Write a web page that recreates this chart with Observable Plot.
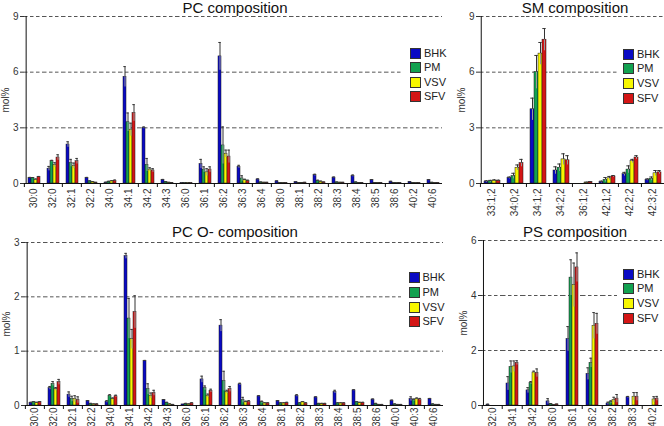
<!DOCTYPE html>
<html><head><meta charset="utf-8">
<script src="https://cdn.jsdelivr.net/npm/d3@7"></script>
<script src="https://cdn.jsdelivr.net/npm/@observablehq/plot@0.6"></script>
<style>
body{margin:0;background:#fff;font-family:"Liberation Sans",Arial,sans-serif;}
#root{position:relative;width:664px;height:426px;overflow:hidden;background:#fff}
.panel{position:absolute}
.panel svg{overflow:visible;display:block}
.title{position:absolute;font-size:15px;line-height:15px;color:#111;white-space:nowrap;transform:translateX(-50%)}
.lbox{position:absolute;background:#fff;z-index:5}
.sw{position:absolute;width:9px;height:9px;border:0.5px solid #333;z-index:6}
.lt{position:absolute;font-size:11px;line-height:11px;color:#222;z-index:6;white-space:nowrap}
</style></head>
<body><div id="root"></div>
<script>
const series = ["BHK","PM","VSV","SFV"];
const colors = ["#0a0ac4","#12a150","#f7f700","#d41616"];

// PC composition
const pcCats = ["30:0","32:0","32:1","32:2","34:0","34:1","34:2","34:3","36:0","36:1","36:2","36:3","36:4","38:0","38:1","38:2","38:3","38:4","38:5","38:6","40:2","40:6"];
const pcBHK = [0.3,0.8,2.1,0.3,0.05,5.75,3.0,0.2,0.02,1.05,6.85,0.9,0.22,0.12,0.08,0.45,0.32,0.41,0.18,0.1,0.09,0.18];
const pcPM  = [0.3,1.2,1.1,0.12,0.1,3.3,1.0,0.08,0.02,0.75,2.05,0.27,0.06,0.03,0.04,0.14,0.06,0.06,0.04,0.03,0.03,0.05];
const pcVSV = [0.2,1.0,0.95,0.08,0.12,2.9,0.75,0.05,0.02,0.6,1.6,0.18,0.05,0.02,0.04,0.1,0.05,0.04,0.03,0.02,0.02,0.03];
const pcSFV = [0.35,1.4,1.2,0.05,0.15,3.8,0.7,0.04,0.02,0.75,1.45,0.14,0.05,0.02,0.05,0.06,0.05,0.04,0.03,0.02,0.02,0.03];
const pcErrBHK = [0.03,0.12,0.15,0.03,0.02,0.55,0.05,0.02,0,0.25,0.75,0.08,0.03,0.02,0.01,0.05,0.03,0.05,0.03,0.02,0.01,0.03];
const pcErrPM  = [0.02,0.05,0.2,0.02,0.02,0.5,0.35,0.02,0,0.15,1.0,0.15,0.02,0.01,0.01,0.04,0.02,0.02,0.01,0.01,0.01,0.01];
const pcErrVSV = [0.05,0.12,0.15,0.02,0.03,0.35,0.1,0.01,0,0.2,0.2,0.05,0.01,0.01,0.01,0.03,0.01,0.01,0.01,0.01,0.01,0.01];
const pcErrSFV = [0.03,0.15,0.15,0.01,0.04,0.45,0.1,0.01,0,0.15,0.35,0.04,0.01,0.01,0.01,0.02,0.01,0.01,0.01,0.01,0.01,0.01];

// SM composition
const smCats = ["33:1;2","34:0;2","34:1;2","34:2;2","36:1;2","42:1;2","42:2;2","42:3;2"];
const smBHK = [0.1,0.3,4.0,0.7,0.0,0.08,0.5,0.2];
const smPM  = [0.12,0.4,6.0,0.85,0.0,0.2,0.75,0.25];
const smVSV = [0.15,0.85,7.0,1.3,0.05,0.28,1.2,0.55];
const smSFV = [0.15,1.1,7.75,1.25,0.08,0.38,1.4,0.6];
const smErrBHK = [0.05,0.05,0.6,0.2,0,0.05,0.1,0.05];
const smErrPM  = [0.05,0.15,0.9,0.2,0,0.12,0.2,0.1];
const smErrVSV = [0.05,0.15,0.6,0.3,0.02,0.1,0.1,0.15];
const smErrSFV = [0.03,0.2,0.6,0.25,0.02,0.05,0.1,0.1];

// PC O- composition
const poCats = ["30:0","32:0","32:1","32:2","34:0","34:1","34:2","34:3","36:0","36:1","36:2","36:3","36:4","38:1","38:2","38:3","38:4","38:5","38:6","40:0","40:3","40:6"];
const poBHK = [0.05,0.32,0.2,0.08,0.07,2.75,0.82,0.1,0.02,0.48,1.47,0.39,0.17,0.08,0.18,0.15,0.25,0.28,0.11,0.09,0.12,0.12];
const poPM  = [0.06,0.4,0.12,0.03,0.18,1.6,0.3,0.05,0.03,0.32,0.45,0.1,0.06,0.04,0.04,0.03,0.04,0.06,0.03,0.02,0.1,0.02];
const poVSV = [0.05,0.3,0.12,0.02,0.12,1.22,0.18,0.02,0.02,0.18,0.25,0.06,0.04,0.04,0.06,0.03,0.04,0.05,0.01,0.01,0.12,0.01];
const poSFV = [0.06,0.43,0.1,0.02,0.17,1.72,0.23,0.01,0.04,0.27,0.3,0.07,0.04,0.05,0.04,0.03,0.04,0.05,0.01,0.01,0.11,0.01];
const poErrBHK = [0.01,0.03,0.05,0.01,0.02,0.05,0.01,0.01,0,0.06,0.11,0.02,0.01,0.01,0.02,0.01,0.03,0.01,0.01,0.01,0.04,0.01];
const poErrPM  = [0.01,0.04,0.05,0.01,0.02,0.37,0.1,0.01,0.01,0.04,0.18,0.05,0.02,0.01,0.01,0.01,0.01,0.01,0.01,0.01,0.02,0.01];
const poErrVSV = [0.01,0.03,0.06,0.01,0.02,0.18,0.05,0.01,0.01,0.03,0.03,0.02,0.01,0.01,0.01,0.01,0.01,0.01,0.01,0.01,0.02,0.01];
const poErrSFV = [0.01,0.05,0.06,0.01,0.02,0.3,0.05,0.01,0.01,0.03,0.05,0.02,0.01,0.01,0.01,0.01,0.01,0.01,0.01,0.01,0.02,0.01];

// PS composition
const psCats = ["32:0","34:1","34:2","36:0","36:1","36:2","38:2","38:3","40:2"];
const psBHK = [0.03,0.8,0.55,0.15,2.42,1.15,0.07,0.3,0];
const psPM  = [0,1.4,0.82,0.05,4.65,1.55,0.12,0,0];
const psVSV = [0,1.42,1.2,0.02,4.38,2.9,0.2,0.32,0.22];
const psSFV = [0,1.55,1.18,0.04,5.02,2.97,0.25,0.32,0.25];
const psErrBHK = [0.02,0.25,0.1,0.1,0.45,0.22,0.05,0.03,0];
const psErrPM  = [0,0.22,0.05,0.02,0.65,0.17,0.05,0,0];
const psErrVSV = [0,0.2,0.05,0.01,0.8,0.48,0.1,0.15,0.1];
const psErrSFV = [0,0.08,0.15,0.01,0.53,0.38,0.15,0.15,0.08];

const root = document.getElementById("root");

function panel(o) {
  const data = o.cats.flatMap((c, i) => series.map((s, j) => ({cat: c, s, v: o.vals[j][i], e: o.errs[j][i]})));
  const step = (o.width - o.ml - o.mr) / o.cats.length;
  const bw = step / (series.length + 2 * o.po);
  const chart = Plot.plot({
    width: o.width, height: o.height,
    marginLeft: o.ml, marginRight: o.mr, marginTop: o.mt, marginBottom: o.mb,
    style: {fontFamily: "'Liberation Sans', Arial, sans-serif", fontSize: "10px", color: "#333", background: "transparent", overflow: "visible"},
    fx: {domain: o.cats, padding: 0, label: null},
    x: {domain: series, paddingInner: 0, paddingOuter: o.po, axis: null},
    y: {domain: o.yDomain},
    color: {domain: series, range: colors},
    marks: [
      Plot.gridY(o.yTicks, {stroke: "#555", strokeOpacity: 1, strokeDasharray: "3.5,2.5"}),
      Plot.barY(data, {fx: "cat", x: "s", y: "v", fill: "s", stroke: "#1a1a1a", strokeWidth: 0.5}),
      Plot.ruleX(data, {fx: "cat", x: "s", y1: d => Math.max(0, d.v - d.e), y2: "v", stroke: "#999", strokeWidth: 1}),
      Plot.ruleX(data, {fx: "cat", x: "s", y1: "v", y2: d => d.v + d.e, stroke: "#333", strokeWidth: 1}),
      Plot.tickY(data.filter(d => d.e > 0), {fx: "cat", x: "s", y: d => d.v + d.e, stroke: "#333", strokeWidth: 1, insetLeft: 0.3, insetRight: 0.3}),
      Plot.ruleY([0], {stroke: "#111"}),
      // y-axis line at the left edge of the first group
      Plot.ruleX([o.cats[0]], {fx: d => d, x: () => series[0], y1: o.yDomain[0], y2: o.yDomain[1], dx: -bw * (o.po + 0.5), stroke: "#111"}),
      Plot.axisY(o.yTicks, {tickSize: 4, tickPadding: 2, tickFormat: d => String(d), label: "mol%", labelAnchor: "center", labelOffset: 23, labelArrow: "none", fontSize: 10}),
      Plot.axisFx({anchor: "bottom", tickSize: 0, tickRotate: -90, tickPadding: o.lp, label: null, fontSize: 10}),
      Plot.axisFx({anchor: "bottom", tickSize: 4, tickFormat: () => "", dx: -step / 2, label: null, stroke: "#111"})
    ]
  });
  const div = document.createElement("div");
  div.className = "panel";
  div.style.left = o.left + "px";
  div.style.top = o.top + "px";
  div.appendChild(chart);
  root.appendChild(div);

  const t = document.createElement("div");
  t.className = "title";
  t.textContent = o.title;
  t.style.left = o.tx + "px";
  t.style.top = o.ty + "px";
  root.appendChild(t);

  const L = o.legend;
  const box = document.createElement("div");
  box.className = "lbox";
  Object.assign(box.style, {left: L.bx + "px", top: L.by + "px", width: L.bw + "px", height: L.bh + "px"});
  root.appendChild(box);
  series.forEach((s, i) => {
    const sw = document.createElement("div");
    sw.className = "sw";
    Object.assign(sw.style, {left: L.sx + "px", top: (L.sy + i * L.gap) + "px", background: colors[i]});
    root.appendChild(sw);
    const lt = document.createElement("div");
    lt.className = "lt";
    lt.textContent = s;
    Object.assign(lt.style, {left: (L.sx + 14) + "px", top: (L.sy + i * L.gap) + "px"});
    root.appendChild(lt);
  });
}

panel({title: "PC composition", tx: 235, ty: 0, cats: pcCats, vals: [pcBHK, pcPM, pcVSV, pcSFV], errs: [pcErrBHK, pcErrPM, pcErrVSV, pcErrSFV],
  left: 0, top: 0, width: 455, height: 215, ml: 21, mr: 10, mt: 16, mb: 32, po: 0.5, lp: 5, yDomain: [0, 9], yTicks: [0, 3, 6, 9],
  legend: {bx: 403, by: 44, bw: 52, bh: 62, sx: 410, sy: 48, gap: 14.3}});
panel({title: "SM composition", tx: 575, ty: 0, cats: smCats, vals: [smBHK, smPM, smVSV, smSFV], errs: [smErrBHK, smErrPM, smErrVSV, smErrSFV],
  left: 455, top: 0, width: 209, height: 215, ml: 24, mr: 0, mt: 16, mb: 32, po: 0.75, lp: 5, yDomain: [0, 9], yTicks: [0, 3, 6, 9],
  legend: {bx: 617, by: 44, bw: 47, bh: 62, sx: 623, sy: 48.5, gap: 14.8}});
panel({title: "PC O- composition", tx: 235, ty: 224, cats: poCats, vals: [poBHK, poPM, poVSV, poSFV], errs: [poErrBHK, poErrPM, poErrVSV, poErrSFV],
  left: 0, top: 215, width: 455, height: 211, ml: 22, mr: 10, mt: 27, mb: 21, po: 0.5, lp: 2, yDomain: [0, 3], yTicks: [0, 1, 2, 3],
  legend: {bx: 401, by: 266, bw: 54, bh: 64, sx: 408.5, sy: 272, gap: 14.8}});
panel({title: "PS composition", tx: 575, ty: 224, cats: psCats, vals: [psBHK, psPM, psVSV, psSFV], errs: [psErrBHK, psErrPM, psErrVSV, psErrSFV],
  left: 455, top: 215, width: 209, height: 211, ml: 24, mr: 0, mt: 25, mb: 21, po: 0.68, lp: 2, yDomain: [0, 6], yTicks: [0, 2, 4, 6],
  legend: {bx: 617, by: 264, bw: 47, bh: 62, sx: 623, sy: 268.5, gap: 14.8}});
</script>
</body></html>
